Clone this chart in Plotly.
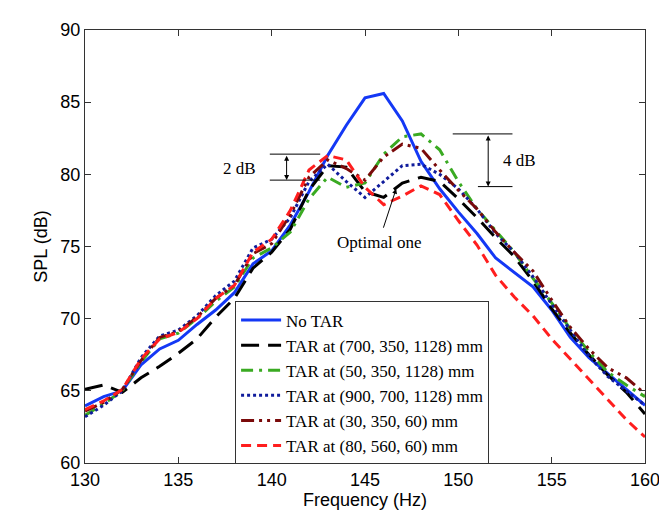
import plotly.graph_objects as go

freq = list(range(130, 161))

no_tar = [63.95, 64.6, 65.0, 66.8, 67.9, 68.5, 69.6, 70.6, 71.8, 73.8, 74.7, 76.5, 78.8, 81.3, 83.4, 85.3,
          85.6, 83.7, 80.9, 79.0, 77.4, 75.9, 74.2, 73.2, 72.2, 70.6, 68.7, 67.3, 66.2, 65.1, 64.0]
tar_700_350_1128 = [65.1, 65.4, 64.9, 65.9, 66.7, 67.6, 68.6, 70.1, 71.4, 73.5, 74.6, 76.2, 78.9, 80.6, 80.5, 78.8,
                    78.4, 79.4, 79.8, 79.5, 78.3, 77.0, 75.6, 74.3, 72.6, 70.7, 69.0, 67.5, 66.1, 64.9, 63.4]
tar_50_350_1128 = [63.3, 64.1, 65.0, 67.0, 68.6, 69.0, 70.0, 71.2, 72.2, 74.2, 74.9, 76.0, 78.3, 79.8, 79.1, 79.4,
                   81.4, 82.6, 82.8, 81.7, 79.5, 77.6, 76.1, 74.6, 72.8, 71.1, 69.3, 67.7, 66.3, 65.4, 64.6]
tar_900_700_1128 = [63.2, 64.0, 65.0, 67.3, 68.8, 69.2, 70.2, 71.6, 72.6, 74.9, 75.5, 77.0, 79.5, 80.7, 79.5, 78.4,
                    79.5, 80.6, 80.7, 80.0, 79.0, 77.6, 75.9, 74.6, 72.9, 71.0, 69.2, 67.4, 66.0, 65.0, 64.0]
tar_30_350_60 = [63.6, 64.2, 65.1, 67.1, 68.7, 69.1, 70.1, 71.4, 72.3, 74.5, 75.2, 77.2, 79.8, 81.0, 80.4, 79.6,
                 81.2, 82.1, 81.8, 80.3, 78.9, 77.6, 76.0, 74.6, 73.3, 71.3, 69.4, 67.9, 66.6, 65.9, 64.8]
tar_80_560_60 = [63.7, 64.3, 65.1, 67.2, 68.6, 69.05, 70.0, 71.4, 72.3, 74.6, 75.5, 77.5, 80.3, 81.3, 81.0, 79.1,
                 77.9, 78.5, 79.2, 78.6, 76.8, 75.1, 73.0, 71.5, 70.2, 68.6, 67.2, 65.8, 64.4, 63.0, 61.8]

names = ["No TAR", "TAR at (700, 350, 1128) mm", "TAR at (50, 350, 1128) mm",
         "TAR at (900, 700, 1128) mm", "TAR at (30, 350, 60) mm", "TAR at (80, 560, 60) mm"]
series = [no_tar, tar_700_350_1128, tar_50_350_1128, tar_900_700_1128, tar_30_350_60, tar_80_560_60]
colors = ["#1438f5", "#000000", "#3aaa22", "#101c9c", "#7a0a0a", "#ff1e1e"]
dashes = ["solid", "18px,9px", "12px,6px,3px,6px", "3px,3px", "13px,5px,3px,5px,3px,5px", "10px,6px"]

fig = go.Figure()
for n, s, c, d in zip(names, series, colors, dashes):
    fig.add_trace(go.Scatter(x=freq, y=s, mode="lines", name=n,
                             line=dict(color=c, width=3, dash=d)))

serif = "Liberation Serif"
sans = "Liberation Sans"

# measurement brackets
shapes = [
    dict(type="line", xref="x", yref="y", x0=139.9, x1=142.6, y0=81.4, y1=81.4, line=dict(color="black", width=1)),
    dict(type="line", xref="x", yref="y", x0=139.9, x1=142.6, y0=79.6, y1=79.6, line=dict(color="black", width=1)),
    dict(type="line", xref="x", yref="y", x0=149.7, x1=152.9, y0=82.8, y1=82.8, line=dict(color="black", width=1)),
    dict(type="line", xref="x", yref="y", x0=151.05, x1=152.9, y0=79.15, y1=79.15, line=dict(color="black", width=1)),
]
fig.update_layout(shapes=shapes)

ann = [
    dict(x=140.8, y=79.6, ax=140.8, ay=81.4, xref="x", yref="y", axref="x", ayref="y", text="",
         showarrow=True, arrowhead=2, arrowside="end+start", arrowsize=1, arrowwidth=1, arrowcolor="black"),
    dict(x=151.6, y=79.15, ax=151.6, ay=82.8, xref="x", yref="y", axref="x", ayref="y", text="",
         showarrow=True, arrowhead=2, arrowside="end+start", arrowsize=1, arrowwidth=1, arrowcolor="black"),
    dict(x=146.67, y=79.0, ax=145.96, ay=76.2, xref="x", yref="y", axref="x", ayref="y", text="",
         showarrow=True, arrowhead=2, arrowsize=1, arrowwidth=1, arrowcolor="black"),
    dict(x=138.3, y=80.4, xref="x", yref="y", text="2 dB", showarrow=False,
         font=dict(family=serif, size=17, color="black")),
    dict(x=153.3, y=80.95, xref="x", yref="y", text="4 dB", showarrow=False,
         font=dict(family=serif, size=17, color="black")),
    dict(x=145.8, y=75.3, xref="x", yref="y", text="Optimal one", showarrow=False,
         font=dict(family=serif, size=17, color="black")),
]
fig.update_layout(annotations=ann)

axis_common = dict(showline=True, linecolor="#333", linewidth=1, mirror="ticks", ticks="inside",
                   ticklen=6, tickcolor="#333", showgrid=False, zeroline=False,
                   tickfont=dict(family=sans, size=18, color="black"))
fig.update_xaxes(range=[130, 160], dtick=5, title=dict(text="Frequency (Hz)", standoff=4,
                 font=dict(family=sans, size=18, color="black")), **axis_common)
fig.update_yaxes(range=[60, 90], dtick=5, title=dict(text="SPL (dB)", standoff=8,
                 font=dict(family=sans, size=18, color="black")), **axis_common)

fig.update_layout(
    width=667, height=510,
    margin=dict(l=77, r=30, t=17, b=52),
    paper_bgcolor="white", plot_bgcolor="white",
    showlegend=True,
    legend=dict(x=0.268, y=0.373, xanchor="left", yanchor="top",
                bgcolor="white", bordercolor="#333", borderwidth=1,
                font=dict(family=serif, size=17, color="black"),
                tracegroupgap=0, itemwidth=40),
)

fig.write_html("out.html")
